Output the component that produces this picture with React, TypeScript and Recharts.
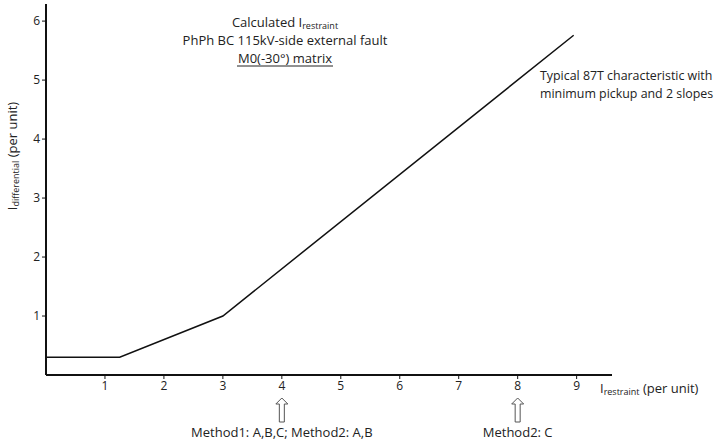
import { LineChart, Line, XAxis, YAxis, ReferenceDot, Customized } from 'recharts';

// restraint current (pu) and the characteristic's differential current (pu)
const restraint = [0, 1.25, 3, 8.95];
const differential = [0.3, 0.3, 1, 5.76];
const xTicks = [1, 2, 3, 4, 5, 6, 7, 8, 9];
const yTicks = [1, 2, 3, 4, 5, 6];
const markers = [
  { x: 4, text: 'Method1: A,B,C; Method2: A,B' },
  { x: 8, text: 'Method2: C' },
];

const data = restraint.map((x, i) => ({ x, y: differential[i] }));

const font = '"Open Sans", "Noto Sans", sans-serif';
const ink = '#222';

const ArrowMarker = (props: any) => {
  const { cx, cy, text } = props;
  const top = cy + 23;
  return (
    <g>
      <path
        d={`M${cx} ${top} L${cx + 6} ${top + 6} L${cx + 2.5} ${top + 6} L${cx + 2.5} ${top + 24} L${cx - 2.5} ${top + 24} L${cx - 2.5} ${top + 6} L${cx - 6} ${top + 6} Z`}
        fill="#fff"
        stroke="#555"
        strokeWidth={1}
      />
      <text x={cx} y={cy + 62} textAnchor="middle" fontFamily={font} fontSize={13} fill={ink}>
        {text}
      </text>
    </g>
  );
};

const Notes = () => (
  <g fontFamily={font} fill={ink}>
    <text x={285} y={27} textAnchor="middle" fontSize={13}>
      Calculated I<tspan fontSize={9} dy={2}>restraint</tspan>
    </text>
    <text x={285} y={45} textAnchor="middle" fontSize={13}>
      PhPh BC 115kV-side external fault
    </text>
    <text x={285} y={63} textAnchor="middle" fontSize={13}>
      M0(-30°) matrix
    </text>
    <line x1={237} x2={333} y1={66} y2={66} stroke={ink} strokeWidth={1} />
    <text x={540} y={80} fontSize={12.4}>
      Typical 87T characteristic with
    </text>
    <text x={540} y={98} fontSize={12.4}>
      minimum pickup and 2 slopes
    </text>
    <text x={600} y={393} fontSize={13}>
      I<tspan fontSize={9} dy={2}>restraint</tspan>
      <tspan dy={-2}> (per unit)</tspan>
    </text>
    <text x={17} y={156} fontSize={13} textAnchor="middle" transform="rotate(-90 17 156)">
      I<tspan fontSize={9} dy={2}>differential</tspan>
      <tspan dy={-2}> (per unit)</tspan>
    </text>
  </g>
);

export default function App() {
  return (
    <div style={{ position: 'absolute', left: 0, top: 0, width: 720, height: 443, background: '#fff' }}>
      <LineChart width={720} height={443} data={data} margin={{ top: 4, right: 108, bottom: 38, left: 6 }}>
        <XAxis
          dataKey="x"
          type="number"
          domain={[0, 9.6]}
          ticks={xTicks}
          height={30}
          axisLine={{ stroke: '#111', strokeWidth: 2 }}
          tickLine={{ stroke: '#111' }}
          tickSize={4}
          tick={{ fill: ink, fontSize: 12, fontFamily: font }}
        />
        <YAxis
          type="number"
          domain={[0, 6.29]}
          ticks={yTicks}
          width={40}
          axisLine={{ stroke: '#111', strokeWidth: 2 }}
          tickLine={{ stroke: '#111' }}
          tickSize={4}
          tick={{ fill: ink, fontSize: 12, fontFamily: font }}
        />
        <Line
          dataKey="y"
          type="linear"
          stroke="#111"
          strokeWidth={1.5}
          dot={false}
          isAnimationActive={false}
        />
        {markers.map((m) => (
          <ReferenceDot
            key={m.x}
            x={m.x}
            y={0}
            r={0}
            ifOverflow="visible"
            shape={(p: any) => <ArrowMarker {...p} text={m.text} />}
          />
        ))}
        <Customized component={Notes} />
      </LineChart>
    </div>
  );
}
